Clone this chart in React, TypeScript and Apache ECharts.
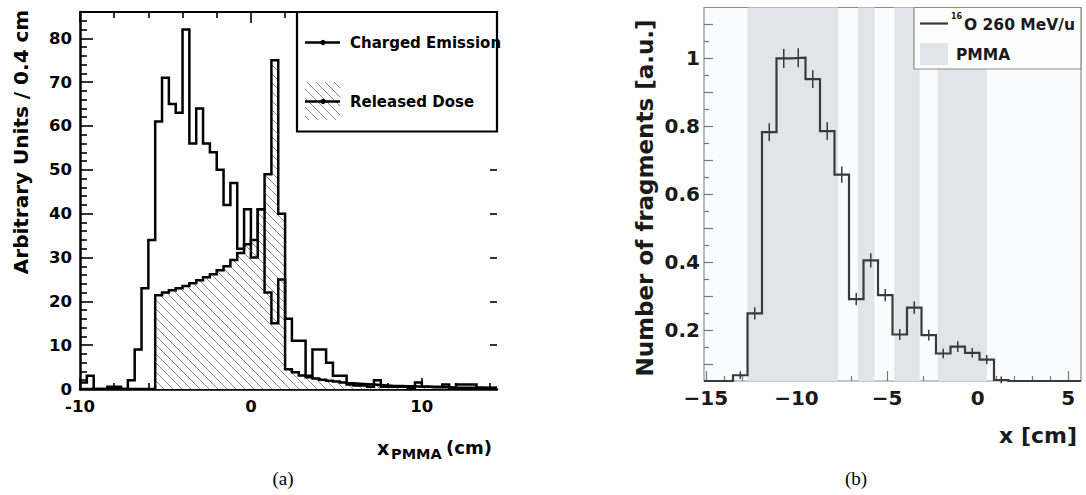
import React, { useEffect, useRef } from 'react';
import * as echarts from 'echarts';

// ---------- Panel (a) data: 0.4 cm bins starting at -10 cm ----------
const aBinStart = -10;
const aBinWidth = 0.4;
const chargedEmission = [
  1.5, 3, 0, 0, 0.5, 0.5, 0, 2, 9, 23,
  34, 61, 71, 65, 63, 82, 56, 64, 56, 54,
  50, 42, 47, 32, 41, 30, 41, 22, 15, 25,
  16, 11, 11, 3, 9, 9, 6, 3, 3, 1,
  0.8, 0.8, 0.5, 2, 0.5, 0.5, 0.5, 0.5, 0.3, 1.5,
  0.5, 0.5, 0.5, 1, 0.3, 1, 1, 1, 0.3, 0.3,
  0.3,
];
const releasedDose = [
  0, 0, 0, 0, 0, 0, 0, 0, 0, 0,
  0, 21.4, 22, 22.5, 23, 23.5, 24.1, 24.8, 25.5, 26.2,
  27.1, 28, 29.4, 31, 33, 34, 41, 49, 75, 40,
  4.5, 3.8, 3.1, 2.7, 2.4, 2.1, 1.9, 1.7, 1.5, 1.3,
  1.2, 1.1, 1.0, 0.9, 0.8, 0.7, 0.7, 0.6, 0.6, 0.5,
  0.5, 0.4, 0.4, 0.4, 0.3, 0.3, 0.3, 0.3, 0.3, 0.2,
  0.2,
];
const aXMajorTicks = [-10, 0, 10];
const aXMinorTicks = [-8, -6, -4, -2, 2, 4, 6, 8, 12, 14];
const aYMajorTicks = [0, 10, 20, 30, 40, 50, 60, 70, 80];
const aYMinorTicks = [2, 4, 6, 8, 12, 14, 16, 18, 22, 24, 26, 28, 32, 34, 36, 38, 42, 44, 46, 48, 52, 54, 56, 58, 62, 64, 66, 68, 72, 74, 76, 78, 82, 84];

// ---------- Panel (b) data: 0.8 cm bins starting at -15.1 cm ----------
const bBinStart = -15.1;
const bBinWidth = 0.8;
const fragments = [
  0.05, 0.05, 0.067, 0.249, 0.783, 1.0, 1.002, 0.939, 0.786, 0.658,
  0.291, 0.405, 0.303, 0.187, 0.266, 0.185, 0.131, 0.151, 0.133, 0.113,
  0.053, 0.05, 0.05, 0.05, 0.05, 0.05,
];
const fragErrors = [
  0, 0, 0.005, 0.012, 0.02, 0.022, 0.022, 0.02, 0.02, 0.018,
  0.012, 0.015, 0.012, 0.01, 0.012, 0.01, 0.008, 0.01, 0.008, 0.008,
  0.004, 0, 0, 0, 0, 0,
];
const pmmaBands = [
  [-12.7, -7.7],
  [-6.6, -5.7],
  [-4.6, -3.2],
  [-2.2, 0.5],
];
const bXMajorTicks = [-15, -10, -5, 0, 5];
const bXMinorTicks = [-14, -13, -12, -11, -9, -8, -7, -6, -4, -3, -2, -1, 1, 2, 3, 4];
const bYLabels = [0.2, 0.4, 0.6, 0.8, 1];
const bYMajorTicks = [0.1, 0.2, 0.3, 0.4, 0.5, 0.6, 0.7, 0.8, 0.9, 1.0, 1.1];
const bYMinorTicks = [0.15, 0.25, 0.35, 0.45, 0.55, 0.65, 0.75, 0.85, 0.95, 1.05];

const SANS = 'DejaVu Sans, Liberation Sans, sans-serif';

function stepPoints(start: number, width: number, vals: number[]) {
  const pts: number[][] = [];
  vals.forEach((v, i) => {
    pts.push([start + i * width, v]);
    pts.push([start + (i + 1) * width, v]);
  });
  return pts;
}

function makeHatch(): HTMLCanvasElement {
  const s = 9;
  const c = document.createElement('canvas');
  c.width = s;
  c.height = s;
  const ctx = c.getContext('2d')!;
  ctx.fillStyle = '#ffffff';
  ctx.fillRect(0, 0, s, s);
  ctx.strokeStyle = '#8a8a8a';
  ctx.lineWidth = 1;
  ctx.beginPath();
  ctx.moveTo(-1, -1);
  ctx.lineTo(s + 1, s + 1);
  ctx.moveTo(-s - 1, -1);
  ctx.lineTo(1, s + 1);
  ctx.moveTo(s - 1, -1);
  ctx.lineTo(2 * s + 1, s + 1);
  ctx.stroke();
  return c;
}

const A = { left: 80, top: 12, width: 417, height: 377 };
const B = { left: 704, top: 7.5, width: 377, height: 373.5 };

export default function App() {
  const ref = useRef<HTMLDivElement>(null);
  useEffect(() => {
    if (!ref.current) return;
    const chart = echarts.init(ref.current, null, { renderer: 'svg' });
    const hatch = makeHatch();
    const hatchPattern = { image: hatch, repeat: 'repeat' };
    const aMin = aBinStart;
    const aMax = aBinStart + chargedEmission.length * aBinWidth;
    const bMin = bBinStart;
    const bMax = bBinStart + fragments.length * bBinWidth;
    const noSplit = { show: false };
    const hidden = { show: false };
    const hiddenLine = { show: false, onZero: false };
    const blackLine = (w: number) => ({ onZero: false, lineStyle: { color: '#000', width: w } });

    const option: any = {
      animation: false,
      backgroundColor: '#ffffff',
      grid: [
        { ...A }, // 0 main (a)
        { ...A }, // 1 minor ticks (a)
        { ...A }, // 2 top/right (a)
        { ...A }, // 3 top minor (a)
        { ...B, show: true, backgroundColor: '#fafbfc', borderColor: '#8c8c8c', borderWidth: 1.2 }, // 4 main (b)
        { ...B }, // 5 minor (b)
      ],
      xAxis: [
        {
          type: 'value', gridIndex: 0, min: aMin, max: aMax, position: 'bottom', splitLine: noSplit,
          axisLine: blackLine(2.5),
          axisTick: { inside: true, length: 11, customValues: aXMajorTicks, lineStyle: { color: '#000', width: 1.6 } },
          axisLabel: { customValues: aXMajorTicks, color: '#000', fontFamily: SANS, fontWeight: 'bold', fontSize: 16.5, margin: 9 },
        },
        {
          type: 'value', gridIndex: 1, min: aMin, max: aMax, position: 'bottom', splitLine: noSplit,
          axisLine: hiddenLine,
          axisTick: { inside: true, length: 6, customValues: aXMinorTicks, lineStyle: { color: '#000', width: 1.6 } },
          axisLabel: hidden,
        },
        {
          type: 'value', gridIndex: 2, min: aMin, max: aMax, position: 'top', splitLine: noSplit,
          axisLine: blackLine(2.2),
          axisTick: { inside: true, length: 11, customValues: aXMajorTicks, lineStyle: { color: '#000', width: 1.6 } },
          axisLabel: hidden,
        },
        {
          type: 'value', gridIndex: 3, min: aMin, max: aMax, position: 'top', splitLine: noSplit,
          axisLine: hiddenLine,
          axisTick: { inside: true, length: 6, customValues: aXMinorTicks, lineStyle: { color: '#000', width: 1.6 } },
          axisLabel: hidden,
        },
        {
          type: 'value', gridIndex: 4, min: bMin, max: bMax, position: 'bottom', splitLine: noSplit,
          axisLine: hiddenLine,
          axisTick: { inside: true, length: 10, customValues: bXMajorTicks, lineStyle: { color: '#777', width: 1.2 } },
          axisLabel: {
            customValues: bXMajorTicks, color: '#1a1a1a', fontFamily: SANS, fontWeight: 'bold', fontSize: 20, margin: 7,
            formatter: (v: number) => (v < 0 ? '\u2212' + Math.abs(v) : String(v)),
          },
        },
        {
          type: 'value', gridIndex: 5, min: bMin, max: bMax, position: 'bottom', splitLine: noSplit,
          axisLine: hiddenLine,
          axisTick: { inside: true, length: 5, customValues: bXMinorTicks, lineStyle: { color: '#777', width: 1.2 } },
          axisLabel: hidden,
        },
      ],
      yAxis: [
        {
          type: 'value', gridIndex: 0, min: 0, max: 86, position: 'left', splitLine: noSplit,
          axisLine: blackLine(2.5),
          axisTick: { inside: true, length: 13, customValues: aYMajorTicks, lineStyle: { color: '#000', width: 1.6 } },
          axisLabel: { customValues: aYMajorTicks, color: '#000', fontFamily: SANS, fontWeight: 'bold', fontSize: 16.5, margin: 8 },
        },
        {
          type: 'value', gridIndex: 1, min: 0, max: 86, position: 'left', splitLine: noSplit,
          axisLine: hiddenLine,
          axisTick: { inside: true, length: 7, customValues: aYMinorTicks, lineStyle: { color: '#000', width: 1.6 } },
          axisLabel: hidden,
        },
        {
          type: 'value', gridIndex: 2, min: 0, max: 86, position: 'right', splitLine: noSplit,
          axisLine: hiddenLine,
          axisTick: { inside: true, length: 7, customValues: aYMajorTicks, lineStyle: { color: '#000', width: 1.6 } },
          axisLabel: hidden,
        },
        { type: 'value', gridIndex: 3, min: 0, max: 86, show: false, axisLine: hiddenLine },
        {
          type: 'value', gridIndex: 4, min: 0.05, max: 1.15, position: 'left', splitLine: noSplit,
          axisLine: hiddenLine,
          axisTick: { inside: true, length: 9, customValues: bYMajorTicks, lineStyle: { color: '#777', width: 1.2 } },
          axisLabel: {
            customValues: bYLabels, color: '#1a1a1a', fontFamily: SANS, fontWeight: 'bold', fontSize: 20, margin: 4,
            formatter: (v: number) => String(Math.round(v * 10) / 10),
          },
        },
        {
          type: 'value', gridIndex: 5, min: 0.05, max: 1.15, position: 'left', splitLine: noSplit,
          axisLine: hiddenLine,
          axisTick: { inside: true, length: 5, customValues: bYMinorTicks, lineStyle: { color: '#777', width: 1.2 } },
          axisLabel: hidden,
        },
      ],
      series: [
        {
          name: 'Released Dose', type: 'line', xAxisIndex: 0, yAxisIndex: 0,
          data: stepPoints(aBinStart, aBinWidth, releasedDose),
          showSymbol: false, symbol: 'none', clip: true,
          lineStyle: { color: '#000', width: 2.5, join: 'miter' },
          areaStyle: { color: hatchPattern, opacity: 1 },
        },
        {
          name: 'Charged Emission', type: 'line', xAxisIndex: 0, yAxisIndex: 0,
          data: stepPoints(aBinStart, aBinWidth, chargedEmission),
          showSymbol: false, symbol: 'none', clip: true,
          lineStyle: { color: '#000', width: 2.5, join: 'miter' },
        },
        {
          name: 'PMMA', type: 'custom', xAxisIndex: 4, yAxisIndex: 4,
          data: pmmaBands,
          encode: { x: [0, 1] },
          renderItem: (params: any, api: any) => {
            const p0 = api.coord([api.value(0), 0.5]);
            const p1 = api.coord([api.value(1), 0.5]);
            const cs = params.coordSys;
            return {
              type: 'rect',
              shape: { x: p0[0], y: cs.y, width: p1[0] - p0[0], height: cs.height },
              style: { fill: '#e1e4e9' },
            };
          },
        },
        {
          name: '16O 260 MeV/u', type: 'line', xAxisIndex: 4, yAxisIndex: 4,
          data: stepPoints(bBinStart, bBinWidth, fragments),
          showSymbol: false, symbol: 'none', clip: true,
          lineStyle: { color: '#3a3a3a', width: 2.2, join: 'miter' },
        },
        {
          name: 'errors', type: 'custom', xAxisIndex: 4, yAxisIndex: 4,
          data: fragments.map((v, i) => [bBinStart + (i + 0.5) * bBinWidth, v, fragErrors[i]]),
          renderItem: (params: any, api: any) => {
            const x = api.value(0);
            const y = api.value(1);
            const e = api.value(2);
            if (!e) return null;
            const p1 = api.coord([x, y + e]);
            const p2 = api.coord([x, y - e]);
            return {
              type: 'line',
              shape: { x1: p1[0], y1: p1[1] - 2, x2: p2[0], y2: p2[1] + 2 },
              style: { stroke: '#3a3a3a', lineWidth: 1.5 },
            };
          },
        },
      ],
      graphic: [
        // ---- panel (a) legend ----
        { type: 'rect', shape: { x: 297, y: 12, width: 200, height: 119.5 }, style: { fill: '#fff', stroke: '#000', lineWidth: 2.2 }, z: 50 },
        { type: 'line', shape: { x1: 305, y1: 42.5, x2: 340, y2: 42.5 }, style: { stroke: '#000', lineWidth: 2.5 }, z: 51 },
        { type: 'circle', shape: { cx: 323, cy: 42.5, r: 2.6 }, style: { fill: '#000' }, z: 51 },
        { type: 'text', x: 350, y: 43, style: { text: 'Charged Emission', fontFamily: SANS, fontWeight: 'bold', fontSize: 15, fill: '#000', verticalAlign: 'middle', textAlign: 'left' }, z: 51 },
        { type: 'rect', shape: { x: 305, y: 82, width: 35, height: 38 }, style: { fill: hatchPattern }, z: 51 },
        { type: 'line', shape: { x1: 305, y1: 101.5, x2: 340, y2: 101.5 }, style: { stroke: '#000', lineWidth: 2.5 }, z: 52 },
        { type: 'circle', shape: { cx: 323, cy: 101.5, r: 2.6 }, style: { fill: '#000' }, z: 52 },
        { type: 'text', x: 350, y: 102, style: { text: 'Released Dose', fontFamily: SANS, fontWeight: 'bold', fontSize: 15, fill: '#000', verticalAlign: 'middle', textAlign: 'left' }, z: 51 },
        // ---- panel (a) axis titles ----
        { type: 'text', x: 21, y: 142, rotation: Math.PI / 2, style: { text: 'Arbitrary Units / 0.4 cm', fontFamily: SANS, fontWeight: 'bold', fontSize: 20, fill: '#000', textAlign: 'center', verticalAlign: 'middle' } },
        { type: 'text', x: 377, y: 438, style: { text: 'x', fontFamily: SANS, fontWeight: 'bold', fontSize: 19, fill: '#000', textAlign: 'left', verticalAlign: 'alphabetic' } },
        { type: 'text', x: 391, y: 446, style: { text: 'PMMA', fontFamily: SANS, fontWeight: 'bold', fontSize: 14.5, fill: '#000', textAlign: 'left', verticalAlign: 'alphabetic' } },
        { type: 'text', x: 446, y: 438, style: { text: '(cm)', fontFamily: SANS, fontWeight: 'bold', fontSize: 18, fill: '#000', textAlign: 'left', verticalAlign: 'alphabetic' } },
        { type: 'text', x: 283, y: 478, style: { text: '(a)', fontFamily: 'Liberation Serif, serif', fontSize: 19, fill: '#000', textAlign: 'center', verticalAlign: 'middle' } },
        // ---- panel (b) legend ----
        { type: 'rect', shape: { x: 914, y: 7.5, width: 167, height: 61.5 }, style: { fill: '#fdfdfe', stroke: '#8c8c8c', lineWidth: 1.2 }, z: 50 },
        { type: 'line', shape: { x1: 920, y1: 23.5, x2: 948, y2: 23.5 }, style: { stroke: '#3a3a3a', lineWidth: 2.2 }, z: 51 },
        { type: 'text', x: 951, y: 16, style: { text: '16', fontFamily: SANS, fontWeight: 'bold', fontSize: 8, fill: '#1a1a1a', verticalAlign: 'middle', textAlign: 'left' }, z: 51 },
        { type: 'text', x: 964, y: 24.5, style: { text: 'O 260 MeV/u', fontFamily: SANS, fontWeight: 'bold', fontSize: 15.5, fill: '#1a1a1a', verticalAlign: 'middle', textAlign: 'left' }, z: 51 },
        { type: 'rect', shape: { x: 920, y: 43, width: 28, height: 22 }, style: { fill: '#e1e4e9' }, z: 51 },
        { type: 'text', x: 956, y: 55, style: { text: 'PMMA', fontFamily: SANS, fontWeight: 'bold', fontSize: 15.5, fill: '#1a1a1a', verticalAlign: 'middle', textAlign: 'left' }, z: 51 },
        // ---- panel (b) axis titles ----
        { type: 'text', x: 645, y: 198, rotation: Math.PI / 2, style: { text: 'Number of fragments [a.u.]', fontFamily: SANS, fontWeight: 'bold', fontSize: 23, fill: '#1a1a1a', textAlign: 'center', verticalAlign: 'middle' } },
        { type: 'text', x: 1077, y: 435, style: { text: 'x [cm]', fontFamily: SANS, fontWeight: 'bold', fontSize: 22, fill: '#1a1a1a', textAlign: 'right', verticalAlign: 'middle' } },
        { type: 'text', x: 856, y: 478, style: { text: '(b)', fontFamily: 'Liberation Serif, serif', fontSize: 19, fill: '#000', textAlign: 'center', verticalAlign: 'middle' } },
      ],
    };
    chart.setOption(option);
    return () => chart.dispose();
  }, []);
  return (
    <div
      ref={ref}
      style={{ position: 'absolute', left: 0, top: 0, width: 1086, height: 495, background: '#fff' }}
    />
  );
}
